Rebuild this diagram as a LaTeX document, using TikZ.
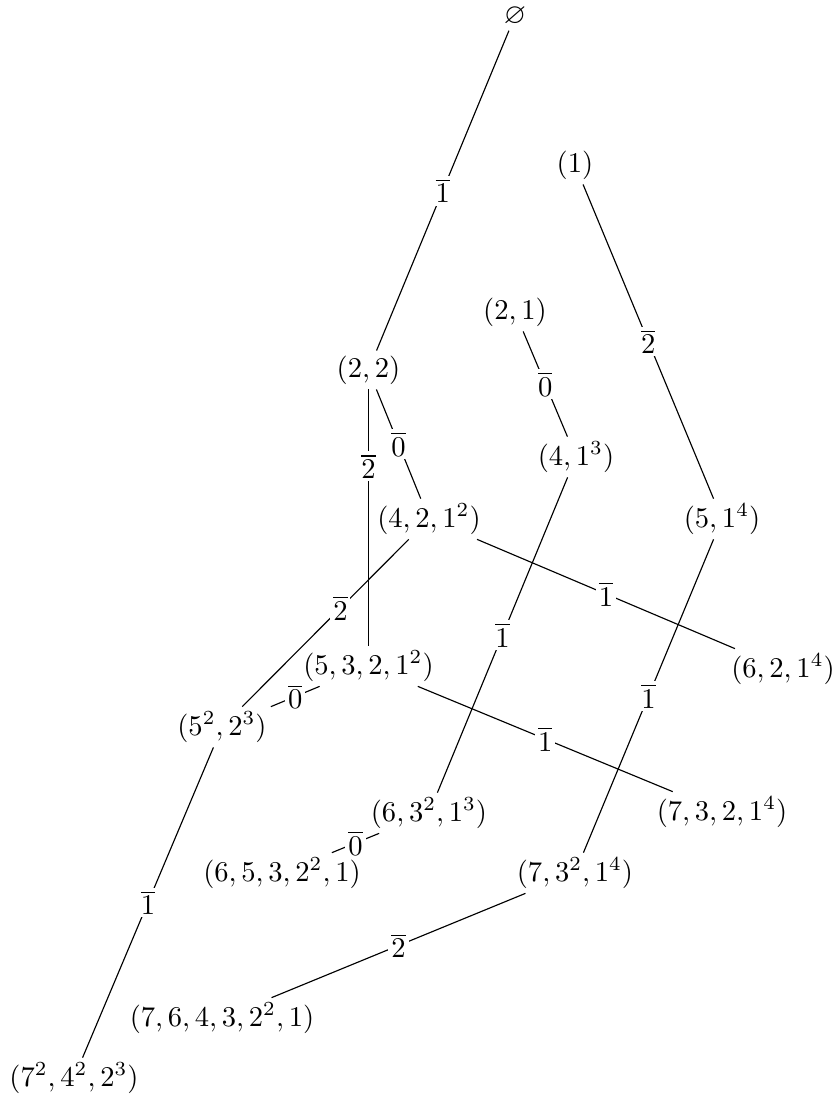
\documentclass[tikz,border=0pt]{standalone}
\usepackage{amssymb}
\begin{document}
\begin{tikzpicture}[x=0.3497pt,y=-0.3497pt,
  pnode/.style={inner sep=1.6pt},
  lbl/.style={fill=white,inner sep=1pt},
  conn/.style={draw,line width=0.4pt}]
\useasboundingbox (0,0) rectangle (837,1102);
\node[pnode] (e)     at (515,16)   {$\varnothing$};
\node[pnode] (n1)    at (575,165)  {$(1)$};
\node[pnode] (n21)   at (515,312)  {$(2,1)$};
\node[pnode] (n22)   at (368.5,370)  {$(2,2)$};
\node[pnode] (n41)   at (576,457)  {$(4,1^3)$};
\node[pnode] (n421)  at (429,519)  {$(4,2,1^2)$};
\node[pnode] (n514)  at (722,519)  {$(5,1^4)$};
\node[pnode] (n6214) at (783,669)  {$(6,2,1^4)$};
\node[pnode] (n5321) at (368.5,666)  {$(5,3,2,1^2)$};
\node[pnode] (n5223) at (222,727)  {$(5^2,2^3)$};
\node[pnode] (n73214) at (722,812) {$(7,3,2,1^4)$};
\node[pnode] (n6313) at (429,813)  {$(6,3^2,1^3)$};
\node[pnode] (n65321) at (282,873) {$(6,5,3,2^2,1)$};
\node[pnode] (n7314) at (575,873)  {$(7,3^2,1^4)$};
\node[pnode] (n765)  at (222,1018) {$(7,6,4,3,2^2,1)$};
\node[pnode] (n7423) at (74,1078)  {$(7^2,4^2,2^3)$};

\draw[conn] (e) -- node[lbl] {$\overline{1}$} (n22);
\draw[conn] (n1) -- node[lbl] {$\overline{2}$} (n514);
\draw[conn] (n21) -- node[lbl] {$\overline{0}$} (n41);
\draw[conn] (n22) -- node[lbl,pos=0.30] {$\overline{2}$} (n5321);
\draw[conn] (n22) -- node[lbl] {$\overline{0}$} (n421);
\draw[conn] (n421) -- node[lbl,pos=0.41] {$\overline{2}$} (n5223);
\draw[conn] (n421) -- node[lbl] {$\overline{1}$} (n6214);
\draw[conn] (n41) -- node[lbl] {$\overline{1}$} (n6313);
\draw[conn] (n514) -- node[lbl] {$\overline{1}$} (n7314);
\draw[conn] (n5321) -- node[lbl] {$\overline{0}$} (n5223);
\draw[conn] (n5321) -- node[lbl] {$\overline{1}$} (n73214);
\draw[conn] (n5223) -- node[lbl] {$\overline{1}$} (n7423);
\draw[conn] (n6313) -- node[lbl] {$\overline{0}$} (n65321);
\draw[conn] (n7314) -- node[lbl] {$\overline{2}$} (n765);
\end{tikzpicture}
\end{document}
